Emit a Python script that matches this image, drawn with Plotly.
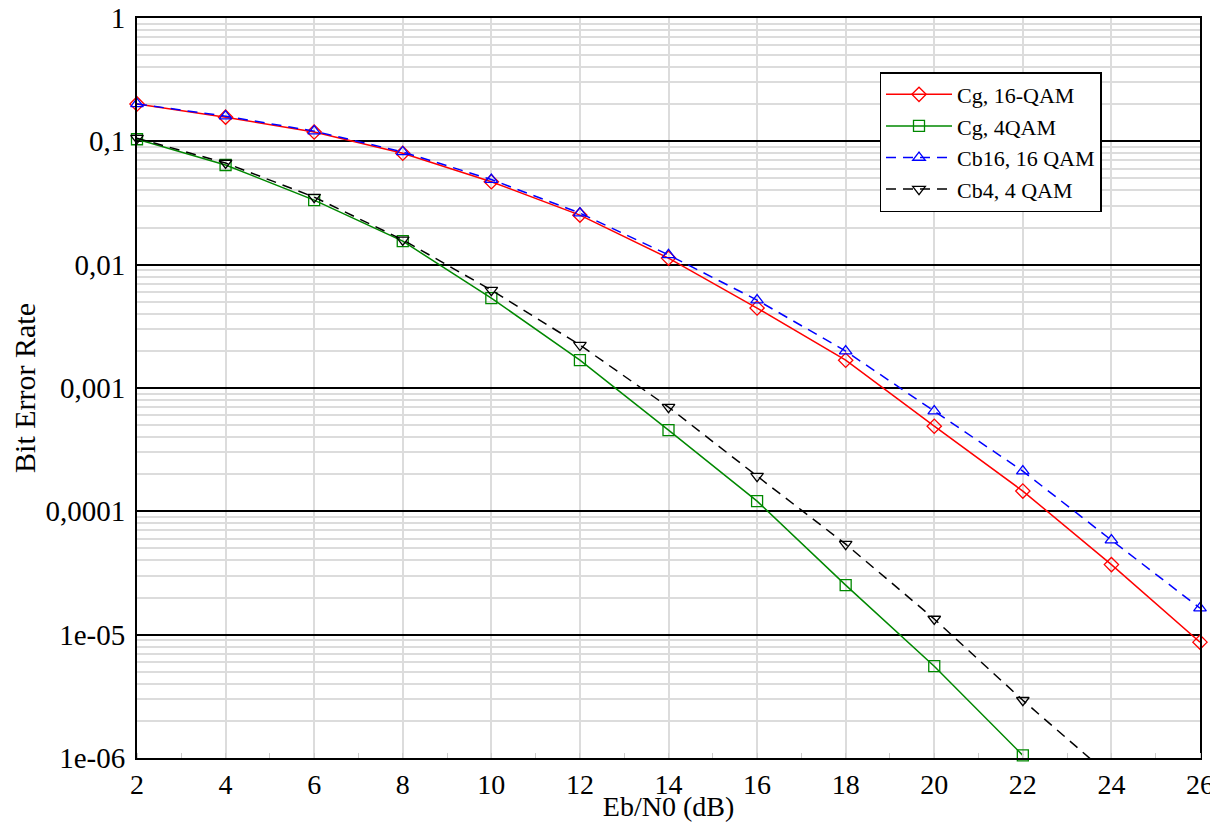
import plotly.graph_objects as go

snr = [2, 4, 6, 8, 10, 12, 14, 16, 18, 20, 22, 24, 26]

cg16 = [0.201, 0.157, 0.119, 0.080, 0.047, 0.0252, 0.0113, 0.00445, 0.00168,
        4.9e-4, 1.46e-4, 3.7e-5, 8.7e-6]
cg4 = [0.104, 0.0643, 0.0334, 0.0155, 0.00536, 0.00168, 4.56e-4, 1.21e-4,
       2.52e-5, 5.55e-6, 1.05e-6]
cb16 = [0.201, 0.160, 0.121, 0.082, 0.049, 0.0262, 0.0120, 0.00516, 0.00199,
        6.5e-4, 2.12e-4, 5.84e-5, 1.64e-5]
cb4 = [0.106, 0.0667, 0.0353, 0.0159, 0.00622, 0.00223, 7.0e-4, 1.93e-4,
       5.42e-5, 1.34e-5, 2.94e-6, 7.0e-7]

y_tickvals = [1, 0.1, 0.01, 0.001, 0.0001, 1e-5, 1e-6]
y_ticktext = ["1", "0,1", "0,01", "0,001", "0,0001", "1e-05", "1e-06"]
x_tickvals = [2, 4, 6, 8, 10, 12, 14, 16, 18, 20, 22, 24, 26]

FONT = "Liberation Serif"

fig = go.Figure()
series = [
    ("Cg, 16-QAM", cg16, "#ff0000", "diamond-open", "solid"),
    ("Cg, 4QAM", cg4, "#008800", "square-open", "solid"),
    ("Cb16, 16 QAM", cb16, "#0000ff", "triangle-up-open", "10px,7px"),
    ("Cb4, 4 QAM", cb4, "#000000", "triangle-down-open", "10px,7px"),
]
for name, ys, col, sym, dash in series:
    fig.add_trace(go.Scatter(
        x=snr[:len(ys)], y=ys, name=name, mode="lines+markers",
        line=dict(color=col, width=1.5, dash=dash),
        marker=dict(symbol=sym, size=11, color=col, line=dict(width=1.3, color=col)),
        cliponaxis=False,
    ))

fig.update_layout(
    width=1210, height=814,
    margin=dict(l=129, r=18, t=10, b=64),
    paper_bgcolor="white", plot_bgcolor="white",
    font=dict(family=FONT, size=29, color="black"),
    showlegend=True,
    legend=dict(
        x=0.6985, y=0.927, xanchor="left", yanchor="top",
        bgcolor="white", bordercolor="black", borderwidth=1.5,
        font=dict(family=FONT, size=22),
        itemwidth=66, tracegroupgap=0,
    ),
)
fig.update_xaxes(
    range=[2, 26], tickvals=x_tickvals,
    showgrid=True, gridcolor="#dcdcdc", gridwidth=1.5,
    showline=True, linecolor="black", linewidth=2, mirror=True,
    ticks="", zeroline=False, ticklabeloverflow="allow",
    minor=dict(dtick=1, tick0=2, ticks="inside", ticklen=5, tickcolor="#cccccc", showgrid=False),
    title=dict(text="Eb/N0 (dB)", font=dict(family=FONT, size=28), standoff=8),
    tickfont=dict(family=FONT, size=28),
    automargin=False,
)
fig.update_yaxes(
    type="log", range=[-6, 0], tickvals=y_tickvals, ticktext=y_ticktext,
    showgrid=True, gridcolor="black", gridwidth=1.5,
    showline=True, linecolor="black", linewidth=2, mirror=True,
    ticks="", zeroline=False, ticklabelstandoff=4, ticklabeloverflow="allow",
    minor=dict(dtick="D1", showgrid=True, gridcolor="#dcdcdc", gridwidth=1.5, ticks=""),
    title=dict(text="Bit Error Rate", font=dict(family=FONT, size=30), standoff=3),
    tickfont=dict(family=FONT, size=29),
    automargin=False,
)

fig.write_html("out.html")
